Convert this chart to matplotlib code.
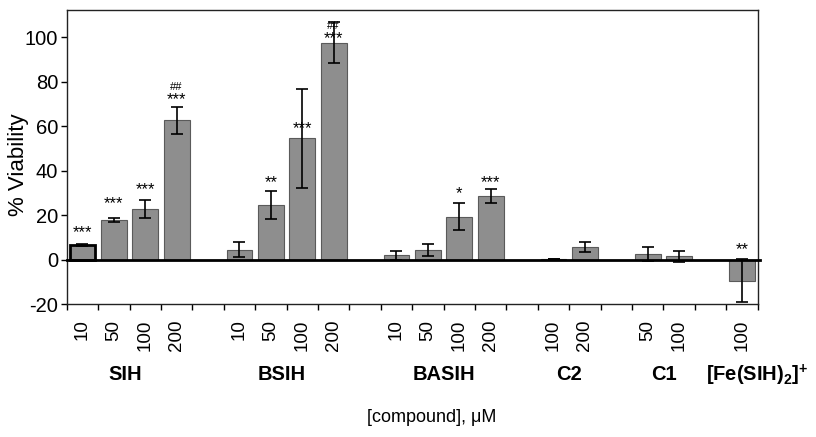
import matplotlib
matplotlib.use("Agg")
import matplotlib.pyplot as plt
import matplotlib.transforms as mtransforms
import numpy as np

plt.rcParams['font.family'] = ['Liberation Sans', 'DejaVu Sans']
plt.rcParams['axes.unicode_minus'] = False
plt.rcParams['mathtext.fontset'] = 'custom'
plt.rcParams['mathtext.rm'] = 'Liberation Sans'
plt.rcParams['mathtext.bf'] = 'Liberation Sans:bold'

groups = ["SIH", "BSIH", "BASIH", "C2", "C1", r"[Fe(SIH)$_\mathbf{2}$]$^\mathbf{+}$"]
group_conc = [["10", "50", "100", "200"],
              ["10", "50", "100", "200"],
              ["10", "50", "100", "200"],
              ["100", "200"],
              ["50", "100"],
              ["100"]]
values = [6.5, 17.8, 22.8, 62.7,
          4.5, 24.8, 54.6, 97.6,
          2.0, 4.4, 19.4, 28.7,
          0.3, 5.8,
          2.5, 1.5,
          -9.4]
errors = [0.4, 0.8, 3.9, 6.0,
          3.3, 6.3, 22.2, 9.3,
          2.0, 2.9, 6.0, 3.3,
          0.0, 2.3,
          3.2, 2.5,
          9.6]
annot_star = ["***", "***", "***", "***",
              "", "**", "***", "***",
              "", "", "*", "***",
              "", "",
              "", "",
              "**"]
annot_hash = ["", "", "", "##",
              "", "", "", "##",
              "", "", "", "",
              "", "",
              "", "",
              ""]
star_y = [12.4, 25.4, 31.7, 72.0,
          0, 34.7, 58.8, 99.6,
          0, 0, 29.7, 34.7,
          0, 0,
          0, 0,
          4.5]
hash_y = [0, 0, 0, 77.8,
          0, 0, 0, 105.0,
          0, 0, 0, 0,
          0, 0,
          0, 0,
          0]

# slot positions with one empty slot between groups
positions = []
group_centers = []
slot = 0
for gi, concs in enumerate(group_conc):
    start = slot
    for c in concs:
        positions.append(slot)
        slot += 1
    group_centers.append((start + slot - 1) / 2)
    slot += 1
positions = np.array(positions, dtype=float)
xticklabels = [c for concs in group_conc for c in concs]

fig = plt.figure(figsize=(8.16, 4.37), dpi=100)
ax = fig.add_axes([66.7 / 816, 1 - 304.3 / 437, (757.7 - 66.7) / 816, (304.3 - 10) / 437])

bar_color = "#8e8e8e"
edges = ["black"] + ["#5a5a5a"] * (len(values) - 1)
lws = [2.0] + [0.8] * (len(values) - 1)
ax.bar(positions, values, width=0.82, color=bar_color, edgecolor=edges,
       linewidth=lws, zorder=2)
ax.errorbar(positions, values, yerr=errors, fmt='none', ecolor='black',
            elinewidth=1.2, capsize=4.5, capthick=1.2, zorder=3)

ax.axhline(0, color='black', lw=2.0, zorder=4, xmin=0, xmax=1.003, clip_on=False)

for x, s, sy in zip(positions, annot_star, star_y):
    if s:
        ax.text(x, sy, s, ha='center', va='center', fontsize=12, zorder=5)
for x, h, hy in zip(positions, annot_hash, hash_y):
    if h:
        ax.text(x, hy, h, ha='center', va='center', fontsize=8, zorder=5)

ax.set_xlim(-0.5, slot - 1.5)
ax.set_ylim(-20, 112.3)
ax.set_yticks(np.arange(-20, 101, 20))
ax.tick_params(axis='y', labelsize=14.5, direction='out', length=4, width=1, pad=2)

ax.set_xticks(positions)
ax.set_xticklabels(xticklabels, rotation=90, fontsize=13.5, va='top')
ax.tick_params(axis='x', which='major', length=0, pad=11)
ax.set_xticks(np.arange(-0.5, slot - 1.0, 1.0), minor=True)
ax.tick_params(axis='x', which='minor', length=4, width=1, direction='out')

for sp in ax.spines.values():
    sp.set_linewidth(1.0)
    sp.set_color('#222222')

trans = mtransforms.blended_transform_factory(ax.transData, ax.transAxes)
offsets = [-0.13, -0.15, 0, 0, 0, 0.48]
for name, cx, off in zip(groups, group_centers, offsets):
    ax.text(cx + off, -0.24, name, transform=trans, ha='center', va='center',
            fontsize=14.5, fontweight='bold')

ax.text(0.528, -0.383, "[compound], μM", transform=ax.transAxes,
        ha='center', va='center', fontsize=13)
ax.set_ylabel("% Viability", fontsize=16)
ax.yaxis.set_label_coords(-0.054, 0.473)

fig.savefig("out.png", dpi=100)
